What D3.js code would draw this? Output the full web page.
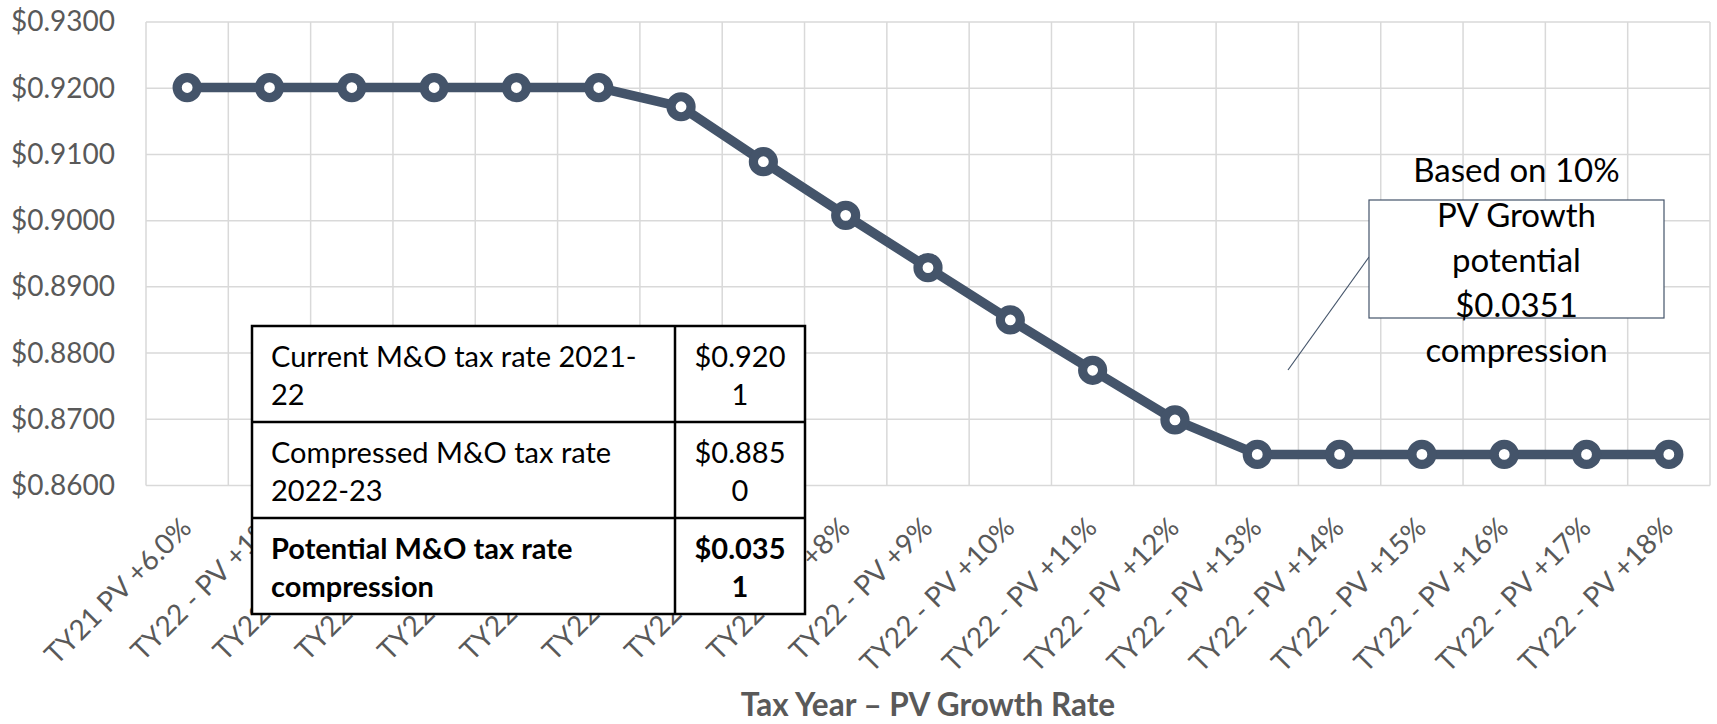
<!DOCTYPE html>
<html>
<head>
<meta charset="utf-8">
<script src="https://cdn.jsdelivr.net/npm/d3@7"></script>
<style>
  body { margin: 0; background: #fff; }
  svg { display: block; font-family: Lato, "Open Sans", sans-serif; }
</style>
</head>
<body>
<div id="chart"></div>
<script>
// categories along the x axis
var categories = [
  "TY21 PV +6.0%",
  "TY22 - PV +1%",
  "TY22 - PV +2%",
  "TY22 - PV +3%",
  "TY22 - PV +4%",
  "TY22 - PV +5%",
  "TY22 - PV +6%",
  "TY22 - PV +7%",
  "TY22 - PV +8%",
  "TY22 - PV +9%",
  "TY22 - PV +10%",
  "TY22 - PV +11%",
  "TY22 - PV +12%",
  "TY22 - PV +13%",
  "TY22 - PV +14%",
  "TY22 - PV +15%",
  "TY22 - PV +16%",
  "TY22 - PV +17%",
  "TY22 - PV +18%"
];

// M&O tax rate for each growth rate
var rates = [
  0.9201, 0.9201, 0.9201, 0.9201, 0.9201, 0.9201,
  0.9172, 0.9089, 0.9008, 0.8929, 0.8850, 0.8774,
  0.8699, 0.8647, 0.8647, 0.8647, 0.8647, 0.8647, 0.8647
];

var yTicks = [0.86, 0.87, 0.88, 0.89, 0.90, 0.91, 0.92, 0.93];

// table shown inside the chart (already wrapped the way it is in the picture)
var tableLabels = [
  ["Current M&O tax rate 2021-", "22"],
  ["Compressed M&O tax rate", "2022-23"],
  ["Potential M&O tax rate", "compression"]
];
var tableValues = [
  ["$0.920", "1"],
  ["$0.885", "0"],
  ["$0.035", "1"]
];
var tableBold = [false, false, true];

var noteLines = ["Based on 10%", "PV Growth", "potential", "$0.0351", "compression"];

var xTitle = "Tax Year \u2013 PV Growth Rate";

// layout
var W = 1717, H = 724;
var plot = { left: 146, right: 1710, top: 22, bottom: 485.5 };
var lineColor = "#44546A";
var gridColor = "#d9d9d9";
var textGray = "#595959";

var svg = d3.select("#chart")
  .append("svg")
  .attr("width", W)
  .attr("height", H);

var x = d3.scaleBand()
  .domain(categories)
  .range([plot.left, plot.right])
  .padding(0);

var y = d3.scaleLinear()
  .domain([0.86, 0.93])
  .range([plot.bottom, plot.top]);

// horizontal grid
svg.append("g")
  .selectAll("line")
  .data(yTicks)
  .enter().append("line")
  .attr("x1", plot.left)
  .attr("x2", plot.right)
  .attr("y1", function(d) { return y(d); })
  .attr("y2", function(d) { return y(d); })
  .attr("stroke", gridColor)
  .attr("stroke-width", 1.5);

// vertical grid on the category edges
var edges = categories.map(function(c) { return x(c); }).concat([plot.right]);
svg.append("g")
  .selectAll("line")
  .data(edges)
  .enter().append("line")
  .attr("x1", function(d) { return d; })
  .attr("x2", function(d) { return d; })
  .attr("y1", plot.top)
  .attr("y2", plot.bottom)
  .attr("stroke", gridColor)
  .attr("stroke-width", 1.5);

// y axis
var yAxis = svg.append("g")
  .attr("transform", "translate(" + plot.left + ",0)")
  .call(d3.axisLeft(y)
    .tickValues(yTicks)
    .tickSize(0)
    .tickPadding(31)
    .tickFormat(function(d) { return "$" + d.toFixed(4); }));
yAxis.select(".domain").remove();
yAxis.selectAll("text")
  .attr("fill", textGray)
  .style("font-size", "28px")
  .style("font-family", "Lato, sans-serif");

// x axis, labels turned 45 degrees
var xAxis = svg.append("g")
  .attr("transform", "translate(0," + plot.bottom + ")")
  .call(d3.axisBottom(x).tickSize(0));
xAxis.select(".domain").remove();
xAxis.selectAll("text")
  .attr("x", 0)
  .attr("y", 0)
  .attr("dy", 0)
  .attr("transform", "translate(6,44) rotate(-45)")
  .attr("fill", textGray)
  .style("text-anchor", "end")
  .style("font-size", "28px")
  .style("font-family", "Lato, sans-serif");

// axis title
svg.append("text")
  .attr("x", (plot.left + plot.right) / 2)
  .attr("y", 716)
  .attr("text-anchor", "middle")
  .attr("fill", textGray)
  .style("font-size", "31.5px")
  .style("font-weight", "bold")
  .text(xTitle);

// the rate line
var line = d3.line()
  .x(function(d, i) { return x(categories[i]) + x.bandwidth() / 2; })
  .y(function(d) { return y(d); });

svg.append("path")
  .datum(rates)
  .attr("d", line)
  .attr("fill", "none")
  .attr("stroke", lineColor)
  .attr("stroke-width", 9.5)
  .attr("stroke-linejoin", "round");

svg.append("g")
  .selectAll("circle")
  .data(rates)
  .enter().append("circle")
  .attr("cx", function(d, i) { return x(categories[i]) + x.bandwidth() / 2; })
  .attr("cy", function(d) { return y(d); })
  .attr("r", 10)
  .attr("fill", "#fff")
  .attr("stroke", lineColor)
  .attr("stroke-width", 9.2);

// table box
var tbl = { left: 252, split: 675, right: 805, top: 326, rowH: 96 };
var table = svg.append("g");

table.append("rect")
  .attr("x", tbl.left)
  .attr("y", tbl.top)
  .attr("width", tbl.right - tbl.left)
  .attr("height", tbl.rowH * tableLabels.length)
  .attr("fill", "#fff")
  .attr("stroke", "#000")
  .attr("stroke-width", 2.5);

table.append("line")
  .attr("x1", tbl.split).attr("x2", tbl.split)
  .attr("y1", tbl.top).attr("y2", tbl.top + tbl.rowH * tableLabels.length)
  .attr("stroke", "#000")
  .attr("stroke-width", 2.5);

for (var r = 1; r < tableLabels.length; r++) {
  table.append("line")
    .attr("x1", tbl.left).attr("x2", tbl.right)
    .attr("y1", tbl.top + r * tbl.rowH).attr("y2", tbl.top + r * tbl.rowH)
    .attr("stroke", "#000")
    .attr("stroke-width", 2.5);
}

tableLabels.forEach(function(lines, r) {
  lines.forEach(function(t, k) {
    table.append("text")
      .attr("x", 271)
      .attr("y", tbl.top + r * tbl.rowH + 41 + k * 38)
      .attr("fill", "#000")
      .style("font-size", "29px")
      .style("font-weight", tableBold[r] ? "bold" : "normal")
      .text(t);
  });
  tableValues[r].forEach(function(t, k) {
    table.append("text")
      .attr("x", (tbl.split + tbl.right) / 2)
      .attr("y", tbl.top + r * tbl.rowH + 41 + k * 38)
      .attr("text-anchor", "middle")
      .attr("fill", "#000")
      .style("font-size", "29px")
      .style("font-weight", tableBold[r] ? "bold" : "normal")
      .text(t);
  });
});

// call-out note with its leader line
var note = svg.append("g");
note.append("line")
  .attr("x1", 1288).attr("y1", 370)
  .attr("x2", 1369).attr("y2", 257)
  .attr("stroke", lineColor)
  .attr("stroke-width", 1.2);

note.append("rect")
  .attr("x", 1369)
  .attr("y", 200)
  .attr("width", 295)
  .attr("height", 118)
  .attr("fill", "#fff")
  .attr("stroke", lineColor)
  .attr("stroke-width", 1.2);

note.selectAll("text")
  .data(noteLines)
  .enter().append("text")
  .attr("x", 1516.5)
  .attr("y", function(d, i) { return 181.5 + i * 45; })
  .attr("text-anchor", "middle")
  .attr("fill", "#000")
  .style("font-size", "33px")
  .text(function(d) { return d; });
</script>
</body>
</html>
